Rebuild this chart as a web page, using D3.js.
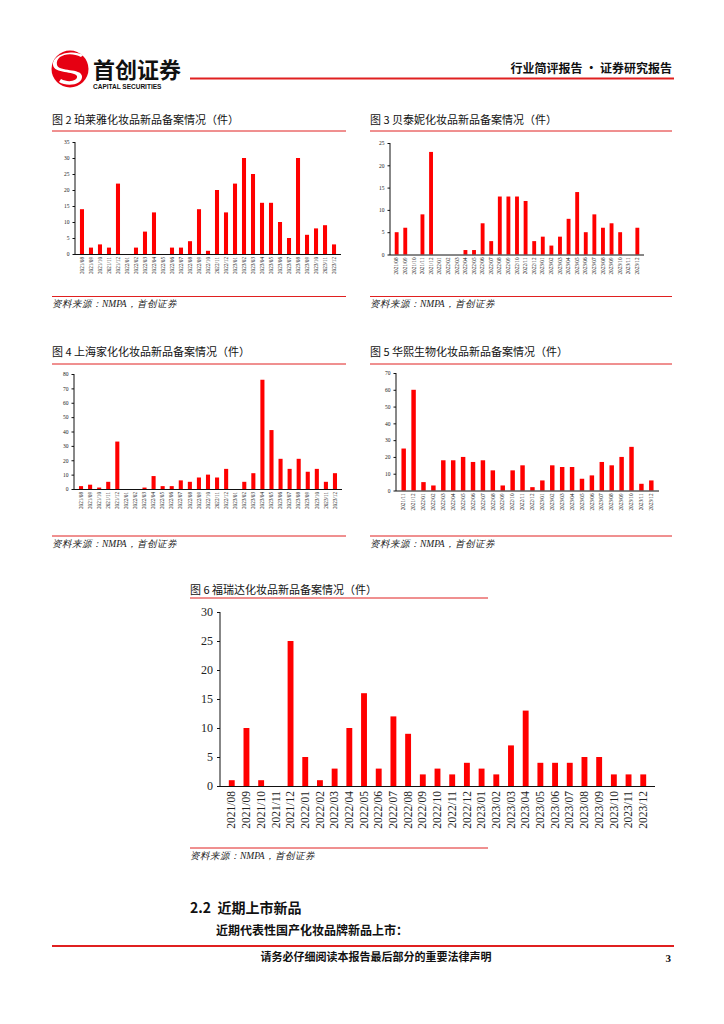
<!DOCTYPE html>
<html>
<head>
<meta charset="utf-8">
<script src="https://cdn.jsdelivr.net/npm/d3@7"></script>
<style>
  body { margin: 0; background: #fff; }
  svg { display: block; }
  svg text { white-space: pre; }
</style>
</head>
<body>
<svg id="page" width="724" height="1024"></svg>
<script>
// 月份标签
const monthsA = ['2021/08','2021/09','2021/10','2021/11','2021/12','2022/01','2022/02','2022/03','2022/04','2022/05','2022/06','2022/07','2022/08','2022/09','2022/10','2022/11','2022/12','2023/01','2023/02','2023/03','2023/04','2023/05','2023/06','2023/07','2023/08','2023/09','2023/10','2023/11','2023/12'];
const monthsB = ['2021/11','2021/12','2022/01','2022/02','2022/03','2022/04','2022/05','2022/06','2022/07','2022/08','2022/09','2022/10','2022/11','2022/12','2023/01','2023/02','2023/03','2023/04','2023/05','2023/06','2023/07','2023/08','2023/09','2023/10','2023/11','2023/12'];

// 各品牌新品备案数（件）
const proyaValues    = [14,2,3,2,22,0,2,7,13,0,2,2,4,14,1,20,13,22,30,25,16,16,10,5,30,6,8,9,3];
const botanisValues  = [5,6,0,9,23,0,0,0,1,1,7,3,13,13,13,12,3,4,2,4,8,14,5,9,6,7,5,0,6];
const jahwaValues    = [2,3,1,5,33,0,0,1,9,2,2,6,5,8,10,8,14,0,5,11,76,41,21,14,21,12,14,5,11];
const bloomageValues = [25,60,5,3,18,18,20,17,18,12,3,12,15,2,6,15,14,14,7,9,17,15,20,26,4,6];
const freedaValues   = [1,10,1,0,25,5,1,3,10,16,3,12,9,2,3,2,4,3,2,7,13,4,4,4,5,5,2,2,2];

const RED = '#e02020';
const BAR = '#ff0000';
const CJK = '"Noto Sans CJK SC", "Noto Sans", sans-serif';
const SERIF = '"Liberation Serif", "DejaVu Serif", serif';

const svg = d3.select('#page');

// ---- 页眉 ----
const logo = svg.append('g');
logo.append('circle').attr('cx', 70).attr('cy', 69).attr('r', 18.5).attr('fill', '#e60012');
logo.append('path')
    .attr('d', 'M81,57 C70,51 55,55 57,65 C59,72 81,68 82,76 C83,85 67,87 59,82 L61,79 C68,83 78,81 77,76 C75,71 54,74 53,65 C52,54 73,49 83,55 Z')
    .attr('fill', '#fff');
svg.append('text').attr('x', 93).attr('y', 78)
    .attr('font-family', CJK).attr('font-weight', 'bold').attr('font-size', 22)
    .attr('fill', '#111').text('首创证券');
svg.append('text').attr('x', 93).attr('y', 88.5)
    .attr('font-family', '"Liberation Sans", Arial, sans-serif').attr('font-weight', 'bold').attr('font-size', 6.5)
    .attr('fill', '#111').text('CAPITAL SECURITIES');
svg.append('line').attr('x1', 190).attr('x2', 674).attr('y1', 78.5).attr('y2', 78.5)
    .attr('stroke', RED).attr('stroke-width', 2);
svg.append('text').attr('x', 672).attr('y', 73).attr('text-anchor', 'end')
    .attr('font-family', CJK).attr('font-weight', 'bold').attr('font-size', 12)
    .attr('fill', '#111').text('行业简评报告 · 证券研究报告');

// ---- 柱状图 ----
function drawChart(cfg) {
    const g = svg.append('g');

    g.append('text').attr('x', cfg.left).attr('y', cfg.titleY)
        .attr('font-family', CJK).attr('font-size', cfg.titleSize || 11)
        .attr('dominant-baseline', 'middle').attr('fill', '#111').text(cfg.title);
    g.append('line').attr('x1', cfg.left).attr('x2', cfg.right)
        .attr('y1', cfg.titleLineY).attr('y2', cfg.titleLineY)
        .attr('stroke', RED).attr('stroke-width', 1);

    const x = d3.scaleBand().domain(cfg.labels).range([cfg.axisX, cfg.plotRight]).padding(cfg.padding);
    const y = d3.scaleLinear().domain([0, cfg.max]).range([cfg.yBottom, cfg.yTop]);

    g.selectAll('rect.bar')
        .data(cfg.values)
        .enter().append('rect')
        .attr('class', 'bar')
        .attr('x', (d, i) => x(cfg.labels[i]))
        .attr('width', x.bandwidth())
        .attr('y', d => y(d))
        .attr('height', d => cfg.yBottom - y(d))
        .attr('fill', BAR);

    const yAxis = g.append('g')
        .attr('transform', `translate(${cfg.axisX},0)`)
        .call(d3.axisLeft(y).tickValues(d3.range(0, cfg.max + 0.1, cfg.step)).tickSize(cfg.tickSize).tickPadding(cfg.tickPad));
    yAxis.selectAll('text').attr('font-family', SERIF).attr('font-size', cfg.tickFont).attr('fill', '#222');
    yAxis.selectAll('line, path').attr('stroke', '#111');
    yAxis.select('path').attr('d', `M0,${cfg.yBottom + 0.5}V${cfg.yTop}`);

    const xAxis = g.append('g')
        .attr('transform', `translate(0,${cfg.yBottom})`)
        .call(d3.axisBottom(x).tickSize(0).tickPadding(cfg.labelPad));
    xAxis.select('path').attr('stroke', '#111').attr('d', `M${cfg.axisX},0.5H${cfg.plotRight}`);
    xAxis.selectAll('text')
        .attr('font-family', SERIF).attr('font-size', cfg.labelFont).attr('fill', '#222')
        .attr('transform', 'rotate(-90)')
        .attr('text-anchor', 'end')
        .attr('dy', '0.32em')
        .attr('x', -cfg.labelPad).attr('y', 0);

    g.append('line').attr('x1', cfg.left).attr('x2', cfg.right)
        .attr('y1', cfg.bottomLineY).attr('y2', cfg.bottomLineY)
        .attr('stroke', RED).attr('stroke-width', 1);
    g.append('text').attr('x', cfg.left).attr('y', cfg.sourceY)
        .attr('font-family', SERIF).attr('font-style', 'italic').attr('font-size', cfg.sourceSize || 9.5)
        .attr('dominant-baseline', 'middle').attr('fill', '#222').text('资料来源：NMPA，首创证券');
}

const smallAxis = { tickSize: 2.5, tickPad: 3, tickFont: 5.5, labelFont: 5.2, labelPad: 3, padding: 0.55 };

drawChart(Object.assign({}, smallAxis, {
    title: '图 2 珀莱雅化妆品新品备案情况（件）', labels: monthsA, values: proyaValues,
    left: 52, right: 346, titleY: 121, titleLineY: 131,
    axisX: 75, plotRight: 341, yTop: 142, yBottom: 254, max: 35, step: 5,
    bottomLineY: 296.5, sourceY: 305
}));
drawChart(Object.assign({}, smallAxis, {
    title: '图 3 贝泰妮化妆品新品备案情况（件）', labels: monthsA, values: botanisValues,
    left: 370, right: 672, titleY: 121, titleLineY: 131,
    axisX: 390, plotRight: 644, yTop: 143, yBottom: 254.5, max: 25, step: 5,
    bottomLineY: 296.5, sourceY: 305
}));
drawChart(Object.assign({}, smallAxis, {
    title: '图 4 上海家化化妆品新品备案情况（件）', labels: monthsA, values: jahwaValues,
    left: 52, right: 346, titleY: 353, titleLineY: 364,
    axisX: 74, plotRight: 342, yTop: 374, yBottom: 489, max: 80, step: 10,
    bottomLineY: 536, sourceY: 545
}));
drawChart(Object.assign({}, smallAxis, {
    title: '图 5 华熙生物化妆品新品备案情况（件）', labels: monthsB, values: bloomageValues,
    left: 370, right: 672, titleY: 353, titleLineY: 364,
    axisX: 396, plotRight: 659, yTop: 373, yBottom: 490.5, max: 70, step: 10,
    bottomLineY: 536, sourceY: 545
}));
drawChart({
    title: '图 6 福瑞达化妆品新品备案情况（件）', labels: monthsA, values: freedaValues,
    left: 190, right: 488, titleY: 591, titleLineY: 598,
    axisX: 220, plotRight: 655, yTop: 612, yBottom: 786, max: 30, step: 5,
    tickSize: 3, tickPad: 4, tickFont: 12, labelFont: 11.5, labelPad: 5, padding: 0.6,
    bottomLineY: 848, sourceY: 857
});

// ---- 正文与页脚 ----
svg.append('text').attr('x', 190).attr('y', 913)
    .attr('font-family', CJK).attr('font-weight', 'bold').attr('font-size', 14)
    .attr('fill', '#111').text('2.2  近期上市新品');
svg.append('text').attr('x', 216).attr('y', 935)
    .attr('font-family', CJK).attr('font-weight', 'bold').attr('font-size', 12)
    .attr('fill', '#111').text('近期代表性国产化妆品牌新品上市：');
svg.append('line').attr('x1', 52).attr('x2', 674).attr('y1', 946).attr('y2', 946)
    .attr('stroke', RED).attr('stroke-width', 2);
svg.append('text').attr('x', 376).attr('y', 961).attr('text-anchor', 'middle')
    .attr('font-family', CJK).attr('font-weight', 'bold').attr('font-size', 11)
    .attr('fill', '#111').text('请务必仔细阅读本报告最后部分的重要法律声明');
svg.append('text').attr('x', 671).attr('y', 962).attr('text-anchor', 'end')
    .attr('font-family', SERIF).attr('font-weight', 'bold').attr('font-size', 11)
    .attr('fill', '#111').text('3');
</script>
</body>
</html>
